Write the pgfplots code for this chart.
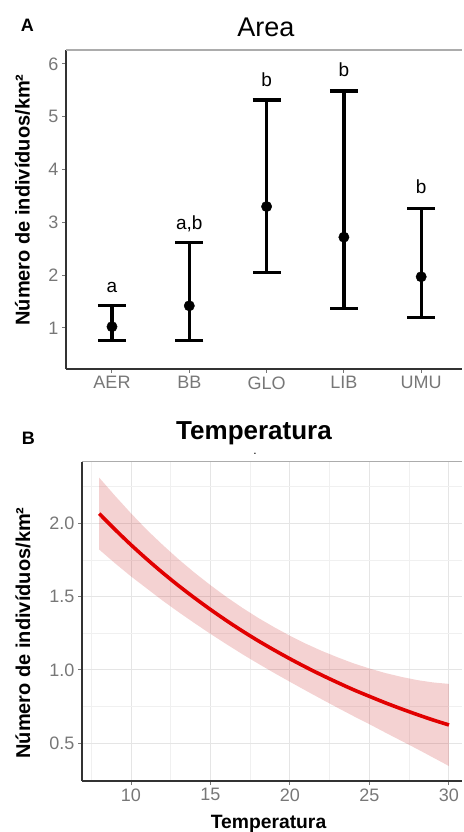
\documentclass[border=0pt]{standalone}
\usepackage{pgfplots}
\pgfplotsset{compat=1.18}
\usepackage{fontspec}
\setmainfont{Liberation Sans}
\definecolor{tickgray}{HTML}{777777}
\definecolor{axdark}{HTML}{333333}
\definecolor{curvered}{RGB}{225,0,0}
\definecolor{bandbase}{RGB}{200,30,30}
\newcommand{\fs}[1]{\fontsize{#1}{#1}\selectfont}
\begin{document}
\begin{tikzpicture}[x=1pt,y=1pt]
\path[use as bounding box] (0,0) rectangle (463,832);

% ---------- Panel A ----------
\begin{axis}[
 at={(66pt,463pt)}, anchor=south west, scale only axis,
 width=396pt, height=319pt,
 xmin=-0.595, xmax=4.528, ymin=0.2235, ymax=6.265,
 axis lines*=left,
 axis line style={draw=axdark, line width=2pt},
 xtick={0,1,2,3,4}, xticklabels={AER,BB,GLO,LIB,UMU},
 ytick={1,2,3,4,5,6},
 tick align=outside, major tick length=4pt,
 tick style={draw=tickgray, line width=1pt},
 ticklabel style={font=\fs{18}, text=tickgray},
 /pgf/number format/assume math mode=true,
 clip=false,
]
\draw[gray!65, line width=1.3pt] (rel axis cs:0,1) -- (rel axis cs:1,1);
\addplot[black, only marks, mark=*, mark size=5.2pt,
  mark options={fill=black, draw=black, line width=0.4pt},
  error bars/.cd, y dir=both, y explicit, error mark=|,
  error mark options={mark size=14pt, line width=3.3pt, black},
  error bar style={line width=3.3pt, black}]
coordinates {
 (0,1.025) += (0,0.395) -= (0,0.265)
 (1,1.42)  += (0,1.20)  -= (0,0.66)
 (2,3.30)  += (0,2.02)  -= (0,1.25)
 (3,2.72)  += (0,2.77)  -= (0,1.35)
 (4,1.97)  += (0,1.29)  -= (0,0.77)
};
\node[anchor=base, font=\fs{19}] at (axis cs:0,1.67) {a};
\node[anchor=base, font=\fs{19}] at (axis cs:1,2.87) {a{,}b};
\node[anchor=base, font=\fs{19}] at (axis cs:2,5.58) {b};
\node[anchor=base, font=\fs{19}] at (axis cs:3,5.76) {b};
\node[anchor=base, font=\fs{19}] at (axis cs:4,3.54) {b};
\end{axis}

% ---------- Panel B ----------
\begin{axis}[
 at={(82pt,51pt)}, anchor=south west, scale only axis,
 width=380pt, height=319.3pt,
 xmin=6.918, xmax=30.82, ymin=0.243, ymax=2.42,
 axis lines*=left,
 axis line style={draw=axdark, line width=2pt},
 xtick={10,15,20,25,30}, ytick={0.5,1,1.5,2},
 minor xtick={7.5,12.5,17.5,22.5,27.5},
 minor ytick={0.25,0.75,1.25,1.75,2.25},
 grid=both,
 major grid style={draw=black!10, line width=1pt},
 minor grid style={draw=black!6, line width=0.7pt},
 tick align=outside, major tick length=4pt, minor tick length=0pt,
 tick style={draw=tickgray, line width=1pt},
 ticklabel style={font=\fs{18}, text=tickgray},
 yticklabel style={/pgf/number format/.cd, fixed, fixed zerofill, precision=1},
 /pgf/number format/assume math mode=true,
 clip=false,
]
\draw[gray!65, line width=1.3pt] (rel axis cs:0,1) -- (rel axis cs:1,1);
\addplot[fill=bandbase, fill opacity=0.2, draw=none] coordinates {
 (8,2.311) (9,2.187) (10,2.068) (11,1.955) (12,1.852) (13,1.754) (14,1.663)
 (15,1.578) (16,1.498) (17,1.424) (18,1.355) (19,1.292) (20,1.233) (21,1.179)
 (22,1.130) (23,1.086) (24,1.045) (25,1.010) (26,0.979) (27,0.953) (28,0.931)
 (29,0.915) (30,0.905)
 (30,0.345) (29,0.403) (28,0.461) (27,0.517) (26,0.573) (25,0.630) (24,0.685)
 (23,0.742) (22,0.800) (21,0.859) (20,0.919) (19,0.980) (18,1.043) (17,1.108)
 (16,1.176) (15,1.246) (14,1.319) (13,1.394) (12,1.472) (11,1.555) (10,1.638)
 (9,1.727) (8,1.821)
} -- cycle;
\addplot[curvered, line width=3.6pt, smooth] coordinates {
 (8,2.066) (9,1.957) (10,1.853) (11,1.755) (12,1.662) (13,1.574) (14,1.491)
 (15,1.412) (16,1.337) (17,1.266) (18,1.199) (19,1.136) (20,1.076) (21,1.019)
 (22,0.965) (23,0.914) (24,0.865) (25,0.820) (26,0.776) (27,0.735) (28,0.696)
 (29,0.659) (30,0.625)
};
\end{axis}

% ---------- Outer texts ----------
\node[anchor=base west, font=\bfseries\fs{18}, inner sep=0pt] at (20.7,800.3) {A};
\node[anchor=base, font=\fs{27}, inner sep=0pt] at (266,795.3) {Area};
\node[anchor=base, rotate=90, font=\bfseries\fs{20}, inner sep=0pt] at (29.5,632) {Número de indivíduos/km²};

\node[anchor=base west, font=\bfseries\fs{18}, inner sep=0pt] at (21.7,387) {B};
\node[anchor=base, font=\bfseries\fs{26}, inner sep=0pt] at (254,392) {Temperatura};
\node[anchor=base, font=\fs{12}, inner sep=0pt] at (255,377) {.};
\node[anchor=base, font=\bfseries\fs{19.3}, inner sep=0pt] at (268.5,3) {Temperatura};
\node[anchor=base, rotate=90, font=\bfseries\fs{20}, inner sep=0pt] at (30,199) {Número de indivíduos/km²};
\end{tikzpicture}
\end{document}
